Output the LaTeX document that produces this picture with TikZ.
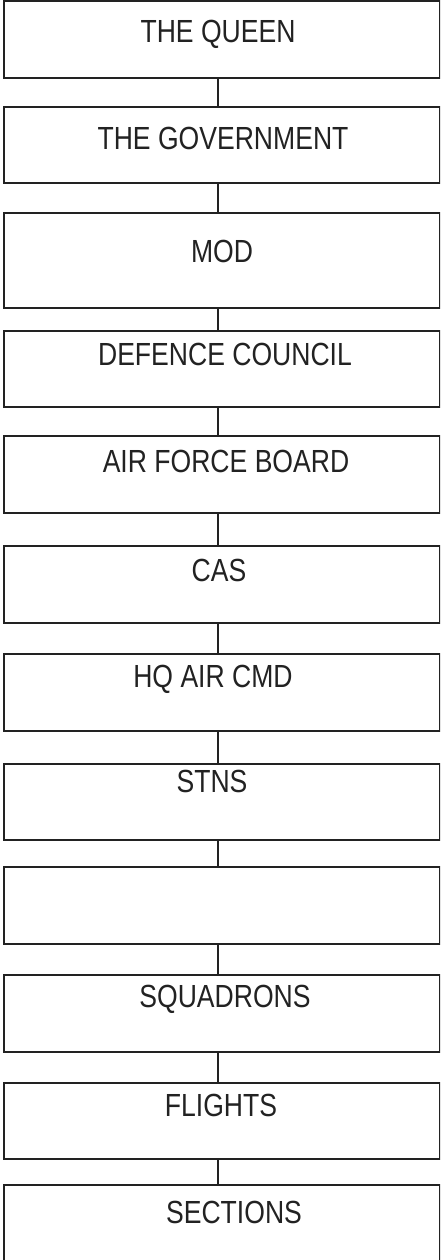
\documentclass[tikz,border=0pt]{standalone}
\usepackage{fontspec}
\setmainfont[FakeStretch=0.83]{Liberation Sans}
\definecolor{ink}{HTML}{222222}
\begin{document}
\begin{tikzpicture}[x=1pt,y=-1pt,
  orgbox/.style={draw=ink, line width=2.4pt, rectangle, inner sep=0pt, outer sep=0pt, minimum width=436.5pt},
  lbl/.style={anchor=base, inner sep=0pt, text=ink, font=\fontsize{32}{38}\selectfont},
  link/.style={draw=ink, line width=2.4pt}]
\clip (0,0) rectangle (440,1260);
\useasboundingbox (0,0) rectangle (440,1260);
\fill[white] (0,0) rectangle (440,1260);
% boxes: centre x = 222.25
\node[orgbox, minimum height=77pt]  (b1)  at (222.25, 39.5) {};
\node[orgbox, minimum height=76pt]  (b2)  at (222.25, 145) {};
\node[orgbox, minimum height=95pt]  (b3)  at (222.25, 260.5) {};
\node[orgbox, minimum height=76pt]  (b4)  at (222.25, 369) {};
\node[orgbox, minimum height=77pt]  (b5)  at (222.25, 474.5) {};
\node[orgbox, minimum height=77pt]  (b6)  at (222.25, 584.5) {};
\node[orgbox, minimum height=77pt]  (b7)  at (222.25, 692.5) {};
\node[orgbox, minimum height=76pt]  (b8)  at (222.25, 802) {};
\node[orgbox, minimum height=77pt]  (b9)  at (222.25, 905.5) {};
\node[orgbox, minimum height=77pt]  (b10) at (222.25, 1013.5) {};
\node[orgbox, minimum height=76pt]  (b11) at (222.25, 1121) {};
\node[orgbox, minimum height=105pt] (b12) at (222.25, 1237.5) {};
% labels
\node[lbl] (t1)  at (218, 43)   {THE QUEEN};
\node[lbl] (t2)  at (223, 150)  {THE GOVERNMENT};
\node[lbl] (t3)  at (222, 262)  {MOD};
\node[lbl] (t4)  at (225, 365)  {DEFENCE COUNCIL};
\node[lbl] (t5)  at (226, 472)  {AIR FORCE BOARD};
\node[lbl] (t6)  at (219, 581)  {CAS};
\node[lbl] (t7)  at (213, 687)  {HQ AIR CMD};
\node[lbl] (t8)  at (212, 792)  {STNS};
\node[lbl] (t10) at (225, 1007) {SQUADRONS};
\node[lbl] (t11) at (221, 1116) {FLIGHTS};
\node[lbl] (t12) at (234, 1223) {SECTIONS};
% connectors
\foreach \a/\b in {b1/b2,b2/b3,b3/b4,b4/b5,b5/b6,b6/b7,b7/b8,b8/b9,b9/b10,b10/b11,b11/b12}
  \draw[link] ([xshift=-4pt]\a.south) -- ([xshift=-4pt]\b.north);
\end{tikzpicture}
\end{document}
